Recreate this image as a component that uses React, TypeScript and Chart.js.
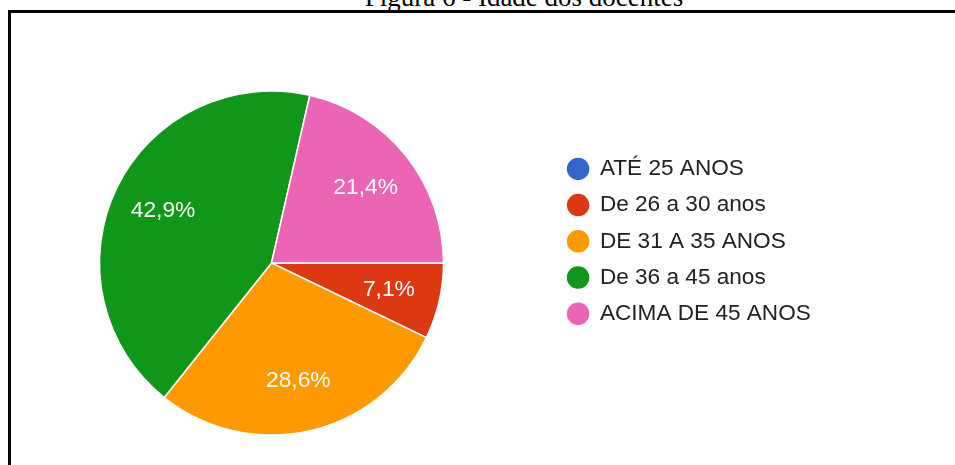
import React, { useEffect, useRef } from 'react';
import { Chart, registerables } from 'chart.js';

Chart.register(...registerables);

const figureTitle = 'Figura 6 - Idade dos docentes';
const categories = ['ATÉ 25 ANOS', 'De 26 a 30 anos', 'DE 31 A 35 ANOS', 'De 36 a 45 anos', 'ACIMA DE 45 ANOS'];
const counts = [0, 1, 4, 6, 3];
const sliceColors = ['#3366cc', '#dc3912', '#ff9900', '#109618', '#ec64b4'];

const SANS = '"Liberation Sans", Arial, sans-serif';

const pctLabels = {
  id: 'pctLabels',
  afterDatasetsDraw(chart: any) {
    const ctx = chart.ctx;
    const meta = chart.getDatasetMeta(0);
    const data = chart.data.datasets[0].data as number[];
    const total = data.reduce((a, b) => a + b, 0);
    ctx.save();
    ctx.font = '22.8px ' + SANS;
    ctx.fillStyle = '#ffffff';
    ctx.textAlign = 'center';
    ctx.textBaseline = 'middle';
    meta.data.forEach((el: any, i: number) => {
      const v = data[i];
      if (!v) return;
      const p = el.getProps(['x', 'y', 'startAngle', 'endAngle', 'outerRadius'], true);
      const mid = (p.startAngle + p.endAngle) / 2;
      const r = p.outerRadius * 0.7;
      const txt = ((v / total) * 100).toFixed(1).replace('.', ',') + '%';
      ctx.fillText(txt, p.x + Math.cos(mid) * r, p.y + Math.sin(mid) * r);
    });
    ctx.restore();
  },
};

export default function App() {
  const ref = useRef<HTMLCanvasElement | null>(null);

  useEffect(() => {
    if (!ref.current) return;
    const chart = new Chart(ref.current, {
      type: 'pie',
      data: {
        labels: categories,
        datasets: [
          {
            data: counts,
            backgroundColor: sliceColors,
            borderColor: '#ffffff',
            borderWidth: 1.5,
            clip: false as any,
          } as any,
        ],
      },
      options: {
        animation: false,
        responsive: false,
        maintainAspectRatio: false,
        rotation: 90,
        radius: 172,
        layout: { padding: { left: 9, right: 139, top: 144, bottom: 83 } },
        plugins: {
          legend: {
            position: 'right',
            align: 'start',
            maxWidth: 262,
            labels: {
              usePointStyle: true,
              pointStyle: 'circle',
              boxWidth: 21,
              boxHeight: 17,
              padding: 13.6,
              color: '#222222',
              font: { size: 22.6, family: SANS },
            },
          },
          tooltip: { enabled: false },
        },
      } as any,
      plugins: [pctLabels],
    });
    return () => chart.destroy();
  }, []);

  return (
    <div
      style={{
        position: 'fixed',
        left: 0,
        top: 0,
        width: 955,
        height: 465,
        overflow: 'hidden',
        background: '#ffffff',
      }}
    >
      <div
        style={{
          position: 'absolute',
          left: 324,
          top: -15.6,
          width: 400,
          textAlign: 'center',
          fontFamily: '"Liberation Serif", "Times New Roman", serif',
          fontSize: 27,
          lineHeight: '27px',
          whiteSpace: 'nowrap',
          color: '#000',
        }}
      >
        {figureTitle}
      </div>
      <div
        style={{
          position: 'absolute',
          left: 8,
          top: 10,
          width: 1200,
          height: 1200,
          borderTop: '3px solid #000',
          borderLeft: '3px solid #000',
        }}
      />
      <div style={{ position: 'absolute', left: -20, top: 0, width: 975, height: 465 }}>
        <canvas ref={ref} width={975} height={465} style={{ width: 975, height: 465, display: 'block' }} />
      </div>
    </div>
  );
}
